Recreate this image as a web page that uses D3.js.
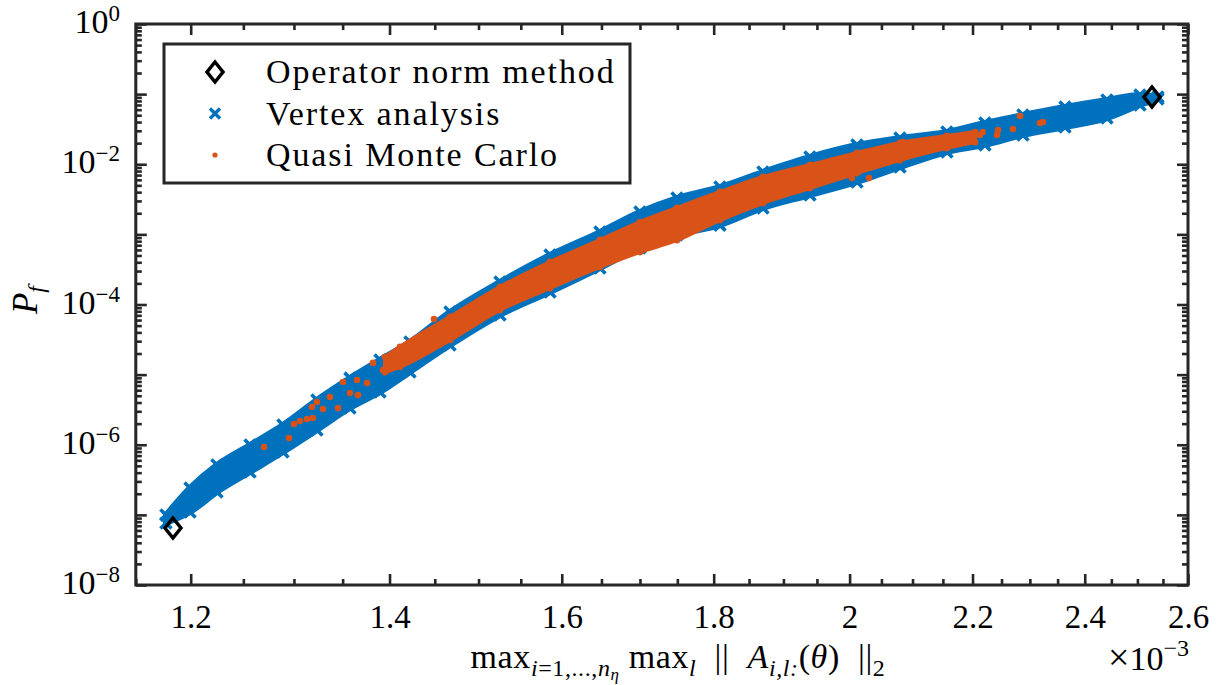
<!DOCTYPE html>
<html>
<head>
<meta charset="utf-8">
<script src="https://cdn.jsdelivr.net/npm/d3@7"></script>
<style>
body { margin: 0; background: #fff; }
svg text { font-family: "Liberation Serif", "Times New Roman", serif; fill: #000; white-space: pre; }
</style>
</head>
<body>
<script>
// values, x in units of 1e-3
const operatorX = [1.1836, 2.5284];
const operatorPf = [6.5e-8, 9.1e-2];

// vertex analysis cloud: upper / lower envelope of the blue band
const vertexX = [1.1772, 1.1994, 1.2247, 1.2565, 1.2890, 1.3234, 1.3577, 1.3897, 1.4224, 1.4672, 1.5252, 1.5855, 1.6481, 1.7000, 1.7495, 1.8088, 1.8701, 1.9395, 2.0115, 2.0797, 2.1568, 2.2213, 2.2877, 2.3635, 2.4417, 2.5050, 2.5401];
const vertexUpper = [1.17e-7, 2.85e-7, 6.07e-7, 1.17e-6, 2.25e-6, 5.12e-6, 1.05e-5, 1.91e-5, 3.44e-5, 9.20e-5, 2.47e-4, 5.98e-4, 1.27e-3, 2.45e-3, 3.89e-3, 5.58e-3, 9.14e-3, 1.50e-2, 2.22e-2, 2.79e-2, 3.40e-2, 4.57e-2, 5.94e-2, 7.73e-2, 9.72e-2, 1.146e-1, 1.072e-1];
const vertexLower = [6.50e-8, 9.33e-8, 1.80e-7, 3.47e-7, 6.68e-7, 1.38e-6, 2.84e-6, 4.80e-6, 9.25e-6, 2.24e-5, 6.01e-5, 1.28e-4, 2.81e-4, 5.42e-4, 8.32e-4, 1.15e-3, 2.02e-3, 3.09e-3, 4.74e-3, 7.74e-3, 1.27e-2, 1.60e-2, 2.22e-2, 2.88e-2, 3.87e-2, 5.94e-2, 7.23e-2];

// quasi monte carlo: dense core band + loose points
const qmcBandX = [1.3951, 1.4114, 1.4672, 1.5252, 1.5855, 1.6481, 1.7000, 1.7495, 1.8088, 1.8701, 1.9395, 2.0115, 2.0797, 2.1568, 2.2042];
const qmcBandUpper = [1.78e-5, 2.48e-5, 6.64e-5, 1.78e-4, 4.04e-4, 8.32e-4, 1.50e-3, 2.38e-3, 4.02e-3, 6.58e-3, 9.75e-3, 1.45e-2, 2.01e-2, 2.53e-2, 2.88e-2];
const qmcBandLower = [1.09e-5, 1.29e-5, 3.12e-5, 8.36e-5, 1.72e-4, 3.43e-4, 5.61e-4, 8.32e-4, 1.60e-3, 2.80e-3, 4.58e-3, 7.50e-3, 1.15e-2, 1.71e-2, 2.07e-2];
const qmcX = [1.2702, 1.2950, 1.3000, 1.3061, 1.3132, 1.3193, 1.3183, 1.3234, 1.3296, 1.3368, 1.3452, 1.3504, 1.3577, 1.3662, 1.3651, 1.3758, 1.3822, 1.3929, 1.4491, 2.0037, 2.0303, 2.0845, 2.2127, 2.2175, 2.2421, 2.2440, 2.2701, 2.2825, 2.3181, 2.3235];
const qmcPf = [9.29e-7, 1.25e-6, 1.98e-6, 2.18e-6, 2.33e-6, 2.41e-6, 3.45e-6, 4.07e-6, 3.24e-6, 4.80e-6, 3.34e-6, 7.85e-6, 5.47e-6, 5.12e-6, 8.38e-6, 7.60e-6, 1.47e-5, 1.16e-5, 6.21e-5, 6.37e-3, 6.37e-3, 2.07e-2, 2.61e-2, 2.88e-2, 2.61e-2, 3.08e-2, 3.18e-2, 4.88e-2, 3.87e-2, 4.00e-2];

const xMajor = [1.2, 1.4, 1.6, 1.8, 2, 2.2, 2.4, 2.6];
const yMajor = [1e-8, 1e-7, 1e-6, 1e-5, 1e-4, 1e-3, 1e-2, 1e-1, 1];
const yLabelExp = [0, -2, -4, -6, -8];
const legendNames = ["Operator norm method", "Vertex analysis", "Quasi Monte Carlo"];

const blue = "#0072BD", orange = "#D95319", axisColor = "#262626";
const W = 1222, H = 685;

const svg = d3.select("body").append("svg").attr("width", W).attr("height", H);

const x = d3.scaleLog().domain([1.15, 2.6]).range([135.8, 1188]);
const y = d3.scaleLog().domain([1e-8, 1]).range([585, 24]);

const xMinor = d3.range(1.15, 2.6001, 0.05).filter(v => !xMajor.some(m => Math.abs(m - v) < 1e-6));
const yMinor = [];
yMajor.slice(0, -1).forEach(d => { for (let m = 2; m <= 9; m++) yMinor.push(d * m); });

svg.append("clipPath").attr("id", "plotClip")
    .append("rect").attr("x", x.range()[0]).attr("y", y.range()[1])
    .attr("width", x.range()[1] - x.range()[0]).attr("height", y.range()[0] - y.range()[1]);

const plot = svg.append("g").attr("clip-path", "url(#plotClip)");

// vertex analysis band
const vertex = vertexX.map((v, i) => ({x: v, hi: vertexUpper[i], lo: vertexLower[i]}));
const band = d3.area().x(d => x(d.x)).y0(d => y(d.lo) - 5).y1(d => y(d.hi) + 5).curve(d3.curveMonotoneX);
plot.append("path").datum(vertex).attr("d", band).attr("fill", blue)
    .attr("stroke", blue).attr("stroke-width", 6).attr("stroke-linejoin", "round");

const crossPath = "M-5.5,-5.5L5.5,5.5M-5.5,5.5L5.5,-5.5";
const edgeMarks = vertex.flatMap(d => [{x: d.x, v: d.hi, off: 5}, {x: d.x, v: d.lo, off: -5}]);
plot.append("g").selectAll("path")
    .data(edgeMarks)
    .join("path")
    .attr("transform", d => `translate(${x(d.x)},${y(d.v) + d.off})`)
    .attr("d", crossPath)
    .attr("stroke", blue).attr("stroke-width", 3.6).attr("fill", "none");

// quasi monte carlo
const qmcBand = qmcBandX.map((v, i) => ({x: v, hi: qmcBandUpper[i], lo: qmcBandLower[i]}));
const band2 = d3.area().x(d => x(d.x)).y0(d => y(d.lo)).y1(d => y(d.hi)).curve(d3.curveMonotoneX);
plot.append("path").datum(qmcBand).attr("d", band2).attr("fill", orange)
    .attr("stroke", orange).attr("stroke-width", 4).attr("stroke-linejoin", "round");
plot.append("g").selectAll("circle")
    .data(qmcBand.flatMap(d => [{x: d.x, v: d.hi}, {x: d.x, v: d.lo}]))
    .join("circle")
    .attr("cx", d => x(d.x)).attr("cy", d => y(d.v)).attr("r", 3.4)
    .attr("fill", orange);
plot.append("g").selectAll("circle")
    .data(qmcX.map((v, i) => ({x: v, v: qmcPf[i]})))
    .join("circle")
    .attr("cx", d => x(d.x)).attr("cy", d => y(d.v)).attr("r", 3.3)
    .attr("fill", orange);

// operator norm diamonds
const diamondPath = "M0,-10L8,0L0,10L-8,0Z";
svg.append("g").selectAll("path")
    .data(operatorX.map((v, i) => ({x: v, v: operatorPf[i]})))
    .join("path")
    .attr("transform", d => `translate(${x(d.x)},${y(d.v)})`)
    .attr("d", diamondPath)
    .attr("stroke", "#000").attr("stroke-width", 3.5).attr("fill", "none");

// axes, MATLAB style: inward ticks on all four sides
function styleAxis(g) {
    g.select(".domain").remove();
    g.selectAll(".tick line").attr("stroke", axisColor).attr("stroke-width", 2.6);
}
const axBottom = svg.append("g").attr("transform", `translate(0,${y.range()[0]})`);
axBottom.append("g").call(d3.axisBottom(x).tickValues(xMinor).tickSize(-6).tickFormat("")).call(styleAxis);
axBottom.append("g").call(d3.axisBottom(x).tickValues(xMajor).tickSize(-11).tickPadding(20).tickFormat(d3.format("")))
    .call(styleAxis)
    .call(g => g.selectAll("text").attr("font-size", 33).attr("fill", "#000"));
const axTop = svg.append("g").attr("transform", `translate(0,${y.range()[1]})`);
axTop.append("g").call(d3.axisTop(x).tickValues(xMinor).tickSize(-6).tickFormat("")).call(styleAxis);
axTop.append("g").call(d3.axisTop(x).tickValues(xMajor).tickSize(-11).tickFormat("")).call(styleAxis);
const axLeft = svg.append("g").attr("transform", `translate(${x.range()[0]},0)`);
axLeft.append("g").call(d3.axisLeft(y).tickValues(yMinor).tickSize(-6).tickFormat("")).call(styleAxis);
axLeft.append("g").call(d3.axisLeft(y).tickValues(yMajor).tickSize(-11).tickFormat("")).call(styleAxis);
const axRight = svg.append("g").attr("transform", `translate(${x.range()[1]},0)`);
axRight.append("g").call(d3.axisRight(y).tickValues(yMinor).tickSize(-6).tickFormat("")).call(styleAxis);
axRight.append("g").call(d3.axisRight(y).tickValues(yMajor).tickSize(-11).tickFormat("")).call(styleAxis);

svg.append("rect")
    .attr("x", x.range()[0]).attr("y", y.range()[1])
    .attr("width", x.range()[1] - x.range()[0]).attr("height", y.range()[0] - y.range()[1])
    .attr("fill", "none").attr("stroke", axisColor).attr("stroke-width", 3);

// y tick labels 10^k
const yLab = svg.append("g").selectAll("text")
    .data(yLabelExp)
    .join("text")
    .attr("x", 120).attr("y", d => y(Math.pow(10, d)) + 9)
    .attr("text-anchor", "end").attr("font-size", 34);
yLab.append("tspan").text("10");
yLab.append("tspan").attr("dy", -12).attr("font-size", 23).text(d => d === 0 ? "0" : "\u2212" + (-d));

// x exponent
const xExp = svg.append("text").attr("x", 1189).attr("y", 670).attr("text-anchor", "end").attr("font-size", 34);
xExp.append("tspan").attr("font-size", 38).text("\u00d7");
xExp.append("tspan").text("10");
xExp.append("tspan").attr("dy", -14).attr("font-size", 24).text("\u22123");

// y label
const yTitle = svg.append("text").attr("transform", "translate(37,300) rotate(-90)")
    .attr("text-anchor", "middle").attr("font-size", 35).attr("font-style", "italic");
yTitle.append("tspan").text("P");
yTitle.append("tspan").attr("dy", 7).attr("font-size", 24).text("f");

// x label
const xTitle = svg.append("text").attr("x", 678).attr("y", 668).attr("text-anchor", "middle")
    .attr("font-size", 34).attr("letter-spacing", 0.6);
xTitle.append("tspan").text("max");
xTitle.append("tspan").attr("dy", 8).attr("font-size", 24).attr("font-style", "italic").text("i");
xTitle.append("tspan").attr("font-size", 24).text("=1,...,");
xTitle.append("tspan").attr("font-size", 24).attr("font-style", "italic").text("n");
xTitle.append("tspan").attr("dy", 4).attr("font-size", 17).attr("font-style", "italic").text("\u03b7");
xTitle.append("tspan").attr("dy", -12).text(" max");
xTitle.append("tspan").attr("dy", 8).attr("font-size", 24).attr("font-style", "italic").text("l");
xTitle.append("tspan").attr("dy", -8).text("  ||  ");
xTitle.append("tspan").attr("font-style", "italic").text("A");
xTitle.append("tspan").attr("dy", 8).attr("font-size", 24).attr("font-style", "italic").text("i,l:");
xTitle.append("tspan").attr("dy", -8).text("(");
xTitle.append("tspan").attr("font-style", "italic").text("\u03b8");
xTitle.append("tspan").text(")  ||");
xTitle.append("tspan").attr("dy", 8).attr("font-size", 24).text("2");

// legend
const legend = svg.append("g");
legend.append("rect").attr("x", 164).attr("y", 44).attr("width", 466).attr("height", 139)
    .attr("fill", "#fff").attr("stroke", axisColor).attr("stroke-width", 3);
const rows = legend.selectAll("g.row").data(legendNames).join("g").attr("class", "row")
    .attr("transform", (d, i) => `translate(0,${72 + i * 41.5})`);
rows.append("text").attr("x", 266).attr("y", 11).attr("font-size", 34)
    .attr("letter-spacing", 1.9).text(d => d);
rows.filter((d, i) => i === 0).append("path").attr("transform", "translate(215,0)")
    .attr("d", diamondPath).attr("stroke", "#000").attr("stroke-width", 3.5).attr("fill", "none");
rows.filter((d, i) => i === 1).append("path").attr("transform", "translate(215,0)")
    .attr("d", "M-5,-5L5,5M-5,5L5,-5").attr("stroke", blue).attr("stroke-width", 3.4).attr("fill", "none");
rows.filter((d, i) => i === 2).append("circle").attr("cx", 215).attr("cy", 0).attr("r", 2.6).attr("fill", orange);
</script>
</body>
</html>
